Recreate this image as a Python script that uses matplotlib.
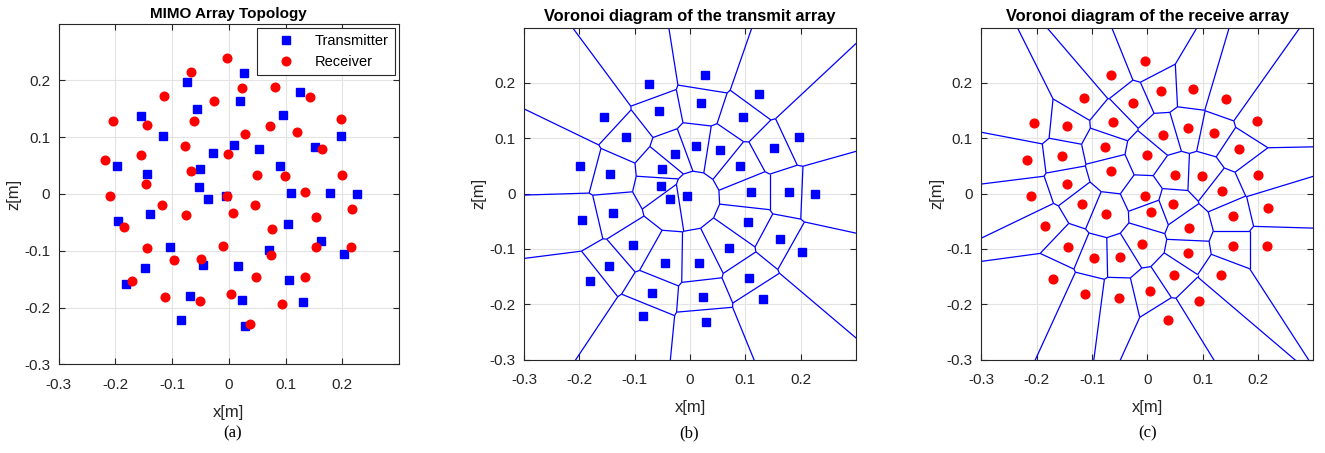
import matplotlib
matplotlib.use('Agg')
import matplotlib.pyplot as plt
import matplotlib.tri as mtri
from matplotlib.collections import LineCollection
import numpy as np

# Posiciones de los transmisores [m]
tx_x = [0.027, -0.074, 0.125, 0.019, -0.056, -0.155, 0.095, -0.116, 0.197, 0.010,
        0.152, 0.054, -0.028, -0.198, 0.091, -0.051, -0.145, -0.053, 0.110, 0.178,
        0.226, -0.037, -0.005, -0.139, 0.104, -0.195, 0.162, -0.103, 0.071, 0.203,
        0.017, -0.046, -0.147, 0.106, -0.181, -0.068, 0.024, 0.131, -0.085, 0.028]
tx_z = [0.214, 0.198, 0.180, 0.164, 0.149, 0.138, 0.139, 0.102, 0.103, 0.086,
        0.082, 0.079, 0.072, 0.049, 0.049, 0.044, 0.035, 0.013, 0.002, 0.002,
        0.000, -0.009, -0.004, -0.035, -0.052, -0.048, -0.083, -0.093, -0.099, -0.106,
        -0.126, -0.125, -0.131, -0.152, -0.158, -0.180, -0.187, -0.191, -0.222, -0.233]

# Posiciones de los receptores [m]
rx_x = [-0.004, -0.066, 0.024, 0.082, -0.115, 0.143, -0.026, -0.205, -0.062, 0.198,
        -0.145, 0.073, 0.121, 0.029, -0.077, 0.165, -0.218, -0.155, -0.001, -0.066,
        0.050, 0.099, 0.200, -0.146, 0.135, -0.210, -0.004, -0.118, 0.046, 0.007,
        -0.075, 0.218, 0.154, -0.184, 0.076, -0.144, -0.010, 0.154, 0.216, 0.074,
        -0.049, -0.096, -0.171, 0.048, 0.134, 0.004, -0.112, -0.051, 0.094, 0.037]
rx_z = [0.240, 0.215, 0.186, 0.189, 0.173, 0.171, 0.164, 0.128, 0.129, 0.132,
        0.122, 0.119, 0.109, 0.106, 0.085, 0.080, 0.060, 0.068, 0.070, 0.041,
        0.034, 0.032, 0.033, 0.018, 0.004, -0.004, -0.004, -0.019, -0.019, -0.034,
        -0.037, -0.026, -0.041, -0.058, -0.062, -0.096, -0.091, -0.094, -0.094, -0.107,
        -0.115, -0.116, -0.154, -0.147, -0.147, -0.176, -0.181, -0.189, -0.194, -0.229]

ticks = [-0.3, -0.2, -0.1, 0, 0.1, 0.2]
tick_labels = ['-0.3', '-0.2', '-0.1', '0', '0.1', '0.2']

plt.rcParams['font.family'] = ['Liberation Sans', 'DejaVu Sans']


def voronoi_segments(x, z, far=5.0):
    # Aristas de Voronoi a partir de la triangulación de Delaunay
    pts = np.column_stack([x, z])
    tri = mtri.Triangulation(np.asarray(x), np.asarray(z))
    t = tri.triangles
    a, b, c = pts[t[:, 0]], pts[t[:, 1]], pts[t[:, 2]]
    a2, b2, c2 = (a**2).sum(1), (b**2).sum(1), (c**2).sum(1)
    d = 2 * (a[:, 0]*(b[:, 1]-c[:, 1]) + b[:, 0]*(c[:, 1]-a[:, 1]) + c[:, 0]*(a[:, 1]-b[:, 1]))
    ux = (a2*(b[:, 1]-c[:, 1]) + b2*(c[:, 1]-a[:, 1]) + c2*(a[:, 1]-b[:, 1])) / d
    uy = (a2*(c[:, 0]-b[:, 0]) + b2*(a[:, 0]-c[:, 0]) + c2*(b[:, 0]-a[:, 0])) / d
    cc = np.column_stack([ux, uy])
    center = pts.mean(0)
    segs = []
    for i, nb in enumerate(tri.neighbors):
        for k in range(3):
            j = nb[k]
            if j > i:
                segs.append([cc[i], cc[j]])
            elif j == -1:
                p, q = pts[t[i, k]], pts[t[i, (k+1) % 3]]
                e = q - p
                n = np.array([-e[1], e[0]]) / np.hypot(e[0], e[1])
                if np.dot((p+q)/2 - center, n) < 0:
                    n = -n
                segs.append([cc[i], cc[i] + far*n])
    return segs


def style_axes(ax):
    ax.set_xlim(-0.3, 0.3)
    ax.set_ylim(-0.3, 0.3)
    ax.set_xticks(ticks)
    ax.set_xticklabels(tick_labels)
    ax.set_yticks(ticks)
    ax.set_yticklabels(tick_labels)
    ax.grid(True, color='#e3e3e3', linewidth=0.8)
    ax.set_axisbelow(True)
    ax.tick_params(direction='in', top=True, right=True, length=4,
                   labelsize=11, color='#262626', labelcolor='#262626')
    ax.tick_params(axis='x', pad=10)
    ax.tick_params(axis='y', pad=6)
    for s in ax.spines.values():
        s.set_color('#262626')
        s.set_linewidth(0.8)
    ax.set_xlabel('x[m]', fontsize=12, color='#262626', labelpad=9)
    ax.set_ylabel('z[m]', fontsize=12, color='#262626', labelpad=2)


fig = plt.figure(figsize=(13.25, 4.53), dpi=100)
ax1 = fig.add_axes([0.0443, 0.1958, 0.2568, 0.7519])
ax2 = fig.add_axes([0.3955, 0.2064, 0.2506, 0.7325])
ax3 = fig.add_axes([0.7406, 0.2064, 0.2506, 0.7325])

# (a) topología
style_axes(ax1)
ax1.plot(tx_x, tx_z, 's', color='blue', markersize=5.5, label='Transmitter')
ax1.plot(rx_x, rx_z, 'o', color='red', markersize=6.2, label='Receiver')
ax1.set_title('MIMO Array Topology', fontsize=11, fontweight='bold', pad=4)
leg = ax1.legend(loc='upper right', fontsize=10.5, fancybox=False, framealpha=1,
                 edgecolor='#262626', borderaxespad=0.3, handlelength=3.2,
                 handletextpad=0.4)
leg.get_frame().set_linewidth(0.8)

# (b) Voronoi transmisores
style_axes(ax2)
ax2.add_collection(LineCollection(voronoi_segments(tx_x, tx_z), colors='blue', linewidths=0.9))
ax2.plot(tx_x, tx_z, 's', color='blue', markersize=5.8)
ax2.set_title('Voronoi diagram of the transmit array', fontsize=11.8, fontweight='bold', pad=5)

# (c) Voronoi receptores
style_axes(ax3)
ax3.add_collection(LineCollection(voronoi_segments(rx_x, rx_z), colors='blue', linewidths=0.9))
ax3.plot(rx_x, rx_z, 'o', color='red', markersize=6.3)
ax3.set_title('Voronoi diagram of the receive array', fontsize=11.8, fontweight='bold', pad=5)

for xpos, txt in [(233, '(a)'), (689, '(b)'), (1148, '(c)')]:
    fig.text(xpos/1325, 1 - 433/453, txt, ha='center', va='center',
             fontsize=12, family='Liberation Serif')

fig.savefig('out.png', dpi=100)
